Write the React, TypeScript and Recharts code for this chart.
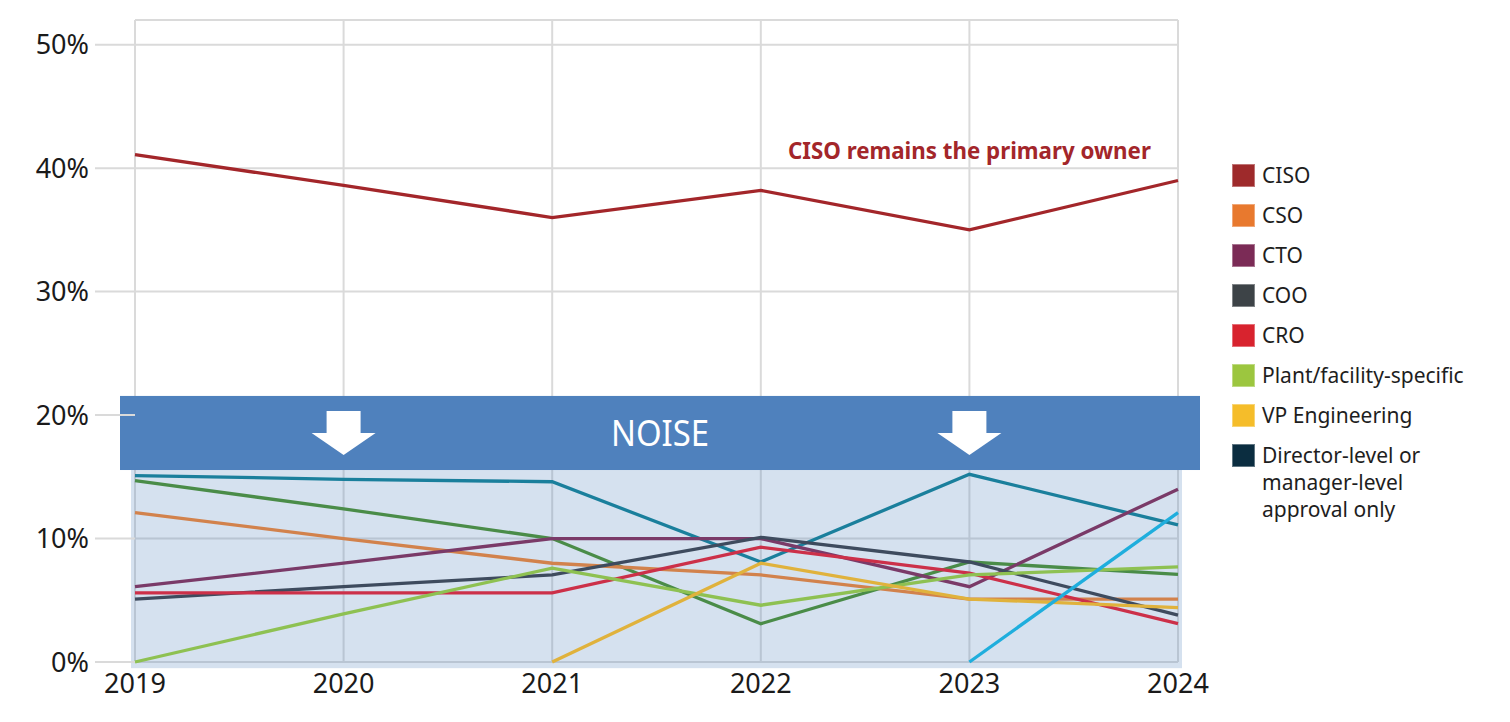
import React from 'react';
import {
  LineChart,
  Line,
  XAxis,
  YAxis,
  CartesianGrid,
  ReferenceArea,
  ReferenceDot,
} from 'recharts';

// years on the x axis
const years = ['2019', '2020', '2021', '2022', '2023', '2024'];

// share of respondents (%)
const ciso = [41.1, 38.6, 36.0, 38.2, 35.0, 39.0];
const teal = [15.1, 14.8, 14.6, 8.1, 15.2, 11.1];
const darkGreen = [14.7, 12.4, 10.0, 3.1, 8.1, 7.1];
const cso = [12.1, 10.0, 8.0, 7.05, 5.1, 5.1];
const cto = [6.1, 8.0, 10.0, 10.0, 6.1, 14.0];
const coo = [5.1, 6.1, 7.05, 10.1, 8.1, 3.8];
const cro = [5.6, 5.6, 5.6, 9.3, 7.2, 3.1];
const plant = [0, 3.9, 7.6, 4.6, 7.05, 7.7];
const vpEng = [null, null, 0, 8.0, 5.1, 4.4];
const lightBlue = [null, null, null, null, 0, 12.1];

const yTicks = [0, 10, 20, 30, 40, 50];

const legendItems = [
  { label: 'CISO', color: '#9E2A2B' },
  { label: 'CSO', color: '#E8792E' },
  { label: 'CTO', color: '#7B2B56' },
  { label: 'COO', color: '#3D4347' },
  { label: 'CRO', color: '#D8232E' },
  { label: 'Plant/facility-specific', color: '#9CC63F' },
  { label: 'VP Engineering', color: '#F5BD2A' },
  { label: 'Director-level or\nmanager-level\napproval only', color: '#0B2D40' },
];

const series = [
  { key: 'teal', values: teal, color: '#1A7F9C' },
  { key: 'darkGreen', values: darkGreen, color: '#4A8C48' },
  { key: 'cso', values: cso, color: '#D2824C' },
  { key: 'cto', values: cto, color: '#7A3A68' },
  { key: 'coo', values: coo, color: '#3E4B5E' },
  { key: 'cro', values: cro, color: '#CC3049' },
  { key: 'plant', values: plant, color: '#8EC152' },
  { key: 'vpEng', values: vpEng, color: '#E0B23C' },
  { key: 'lightBlue', values: lightBlue, color: '#1FAEDD' },
  { key: 'ciso', values: ciso, color: '#A3262A' },
];

const data = years.map((year, i) => {
  const row: Record<string, any> = { year };
  series.forEach((s) => {
    row[s.key] = s.values[i];
  });
  return row;
});

const FONT = '"Noto Sans", "Open Sans", sans-serif';

const NoiseBanner = (props: any) => {
  const { x, y, width, height } = props;
  const left = x - 15;
  const w = width + 37;
  return (
    <g>
      <rect x={left} y={y} width={w} height={height} fill="#4F81BD" />
      <text
        x={left + w / 2}
        y={y + height / 2 + 13}
        textAnchor="middle"
        fill="#fff"
        fontSize={36}
        fontFamily={FONT}
        textLength={98}
        lengthAdjust="spacingAndGlyphs"
      >
        NOISE
      </text>
    </g>
  );
};

const ShadedBand = (props: any) => {
  const { x, y, width, height } = props;
  return <rect x={x - 4} y={y} width={width + 8} height={height} fill="#4F81BD" fillOpacity={0.24} />;
};

const DownArrow = (props: any) => {
  const { cx, cy } = props;
  const pts = [
    [cx - 17, cy - 22],
    [cx + 17, cy - 22],
    [cx + 17, cy],
    [cx + 32, cy],
    [cx, cy + 22],
    [cx - 32, cy],
    [cx - 17, cy],
  ]
    .map((p) => p.join(','))
    .join(' ');
  return <polygon points={pts} fill="#fff" />;
};

const CisoNote = (props: any) => {
  const { cx, cy } = props;
  return (
    <text
      x={cx}
      y={cy + 8}
      textAnchor="middle"
      fill="#A3262A"
      fontSize={24}
      fontWeight={700}
      fontFamily={FONT}
      textLength={363}
      lengthAdjust="spacingAndGlyphs"
    >
      CISO remains the primary owner
    </text>
  );
};

export default function App() {
  return (
    <div style={{ position: 'absolute', left: 0, top: 0, width: 1510, height: 722, background: '#fff', fontFamily: FONT }}>
      <LineChart width={1510} height={722} data={data} margin={{ top: 20, right: 332, bottom: 0, left: 0 }}>
        <CartesianGrid stroke="#DADADA" strokeWidth={2} />
        <XAxis
          dataKey="year"
          height={60}
          axisLine={false}
          tickLine={false}
          tickMargin={6}
          tick={{ fontSize: 27, fill: '#1a1a1a', fontFamily: FONT }}
        />
        <YAxis
          width={135}
          domain={[0, 52]}
          ticks={yTicks}
          tickFormatter={(v) => `${v}%`}
          axisLine={false}
          tickSize={40}
          tickMargin={6}
          tickLine={{ stroke: '#DADADA', strokeWidth: 2 }}
          tick={{ fontSize: 27, fill: '#1a1a1a', fontFamily: FONT }}
        />
        <ReferenceArea y1={-0.5} y2={15.55} ifOverflow="visible" shape={<ShadedBand />} />
        <ReferenceArea y1={15.55} y2={21.55} ifOverflow="visible" shape={<NoiseBanner />} />
        <ReferenceDot x="2020" y={18.55} r={0} ifOverflow="visible" shape={<DownArrow />} />
        <ReferenceDot x="2023" y={18.55} r={0} ifOverflow="visible" shape={<DownArrow />} />
        <ReferenceDot x="2023" y={41.4} r={0} ifOverflow="visible" shape={<CisoNote />} />
        {series.map((s) => (
          <Line
            key={s.key}
            type="linear"
            dataKey={s.key}
            stroke={s.color}
            strokeWidth={3.3}
            dot={false}
            activeDot={false}
            isAnimationActive={false}
          />
        ))}
      </LineChart>
      <div style={{ position: 'absolute', left: 1232, top: 164 }}>
        {legendItems.map((item) => (
          <div key={item.label} style={{ display: 'flex', alignItems: 'flex-start', height: 40 }}>
            <div
              style={{
                width: 23,
                height: 23,
                background: item.color,
                boxShadow: 'inset 0 0 0 1px rgba(255,255,255,0.35)',
                flex: 'none',
              }}
            />
            <div
              style={{
                marginLeft: 7,
                fontSize: 21,
                lineHeight: '27px',
                marginTop: -2,
                color: '#1e1e1e',
                whiteSpace: 'pre',
              }}
            >
              {item.label}
            </div>
          </div>
        ))}
      </div>
    </div>
  );
}
